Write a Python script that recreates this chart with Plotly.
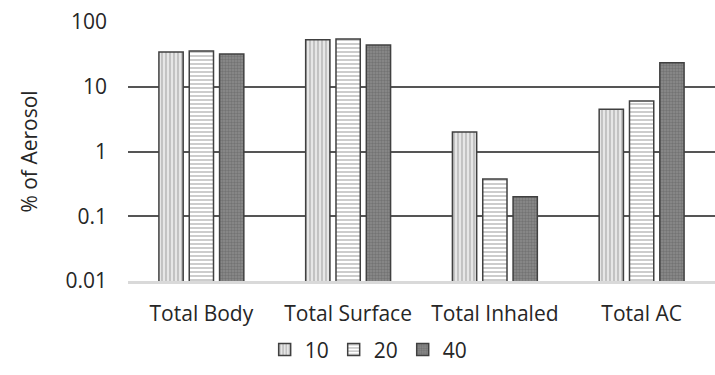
import plotly.graph_objects as go

categories = ["Total Body", "Total Surface", "Total Inhaled", "Total AC"]
series_names = ["10", "20", "40"]
values_10 = [34.5, 53, 2.0, 4.5]
values_20 = [35.5, 54.5, 0.375, 6.0]
values_40 = [32, 44, 0.2, 23.5]
y_tickvals = [0.01, 0.1, 1, 10, 100]
y_ticktext = ["0.01", "0.1", "1", "10", "100"]

FONT = "Open Sans"
TXT = "#262626"
FS = 21

styles = [
    dict(shape="|", bgcolor="#e6e6e6", fgcolor="#7f7f7f", size=4, solidity=0.35),
    dict(shape="-", bgcolor="#ffffff", fgcolor="#7f7f7f", size=4, solidity=0.4),
    dict(shape=".", bgcolor="#8c8c8c", fgcolor="#5a5a5a", size=3, solidity=0.5),
]

fig = go.Figure()
for name, vals, st in zip(series_names, [values_10, values_20, values_40], styles):
    fig.add_trace(go.Bar(
        name=name, x=categories, y=vals,
        marker=dict(color=st["bgcolor"], line=dict(color="#404040", width=1.5),
                    pattern=dict(shape=st["shape"], bgcolor=st["bgcolor"],
                                 fgcolor=st["fgcolor"], size=st["size"],
                                 solidity=st["solidity"])),
    ))

fig.update_layout(
    width=715, height=375,
    margin=dict(l=128, r=0, t=22, b=94),
    paper_bgcolor="white", plot_bgcolor="white",
    barmode="group", bargap=0.38, bargroupgap=0.2,
    font=dict(family=FONT, size=FS, color=TXT),
    showlegend=True,
    legend=dict(orientation="h", x=0.41, xanchor="center", y=-0.266, yanchor="middle",
                font=dict(size=FS, color=TXT), itemwidth=30, traceorder="normal"),
)
fig.update_yaxes(
    type="log", range=[-2, 2], tickvals=y_tickvals, ticktext=y_ticktext,
    showgrid=True, gridcolor="#555555", gridwidth=2, zeroline=False,
    showline=False, ticks="", ticklabelstandoff=20,
    title=dict(text="% of Aerosol", font=dict(size=FS, color=TXT), standoff=22),
)
fig.update_xaxes(
    showline=True, linecolor="#d9d9d9", linewidth=2.5, ticks="",
    ticklabelstandoff=12, showgrid=False,
)

fig.write_html("out.html")
